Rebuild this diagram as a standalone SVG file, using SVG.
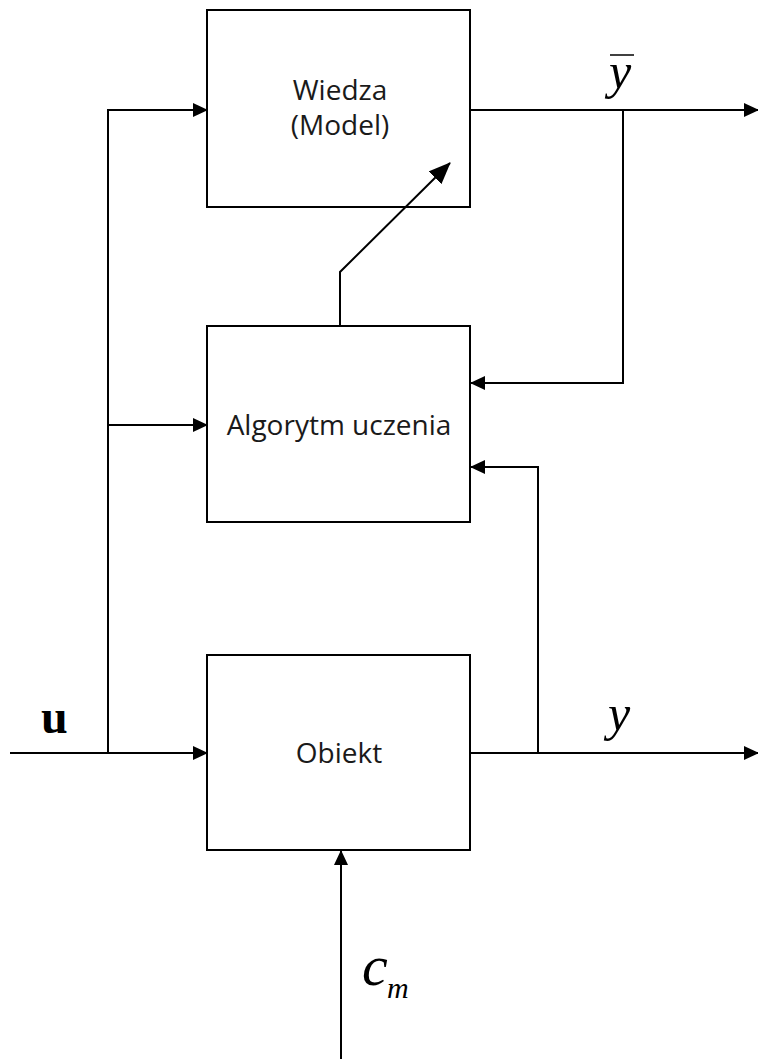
<svg xmlns="http://www.w3.org/2000/svg" width="758" height="1059" viewBox="0 0 758 1059">
<defs>
<marker id="ah" markerWidth="15" markerHeight="14" refX="14" refY="7" orient="auto" markerUnits="userSpaceOnUse">
<path d="M0,0 L15,7 L0,14 Z" fill="#000"/>
</marker>
<marker id="ahl" markerWidth="22" markerHeight="18" refX="21" refY="9" orient="auto" markerUnits="userSpaceOnUse">
<path d="M0,0 L22,9 L0,18 Z" fill="#000"/>
</marker>
<style>
.box{fill:#fff;stroke:#000;stroke-width:2}
.ln{fill:none;stroke:#000;stroke-width:2}
.arr{fill:none;stroke:#000;stroke-width:2;marker-end:url(#ah)}
.lbl{font-family:"Open Sans","Noto Sans",sans-serif;font-size:28px;fill:#1a1a1a;text-anchor:middle}
.math{font-family:"Liberation Serif",serif;font-style:italic;fill:#000}
</style>
</defs>
<rect width="758" height="1059" fill="#fff"/>
<g id="wiedza">
<rect class="box" x="207" y="10" width="263" height="197"/>
<text class="lbl" x="340" y="100">Wiedza</text>
<text class="lbl" x="340" y="135">(Model)</text>
</g>
<g id="algorytm">
<rect class="box" x="207" y="326" width="263" height="196"/>
<text class="lbl" x="339" y="435">Algorytm uczenia</text>
</g>
<g id="obiekt">
<rect class="box" x="207" y="655" width="263" height="195"/>
<text class="lbl" x="339" y="763">Obiekt</text>
</g>
<g id="connectors">
<line class="ln" x1="10" y1="753" x2="108" y2="753"/>
<line class="arr" x1="108" y1="753" x2="207" y2="753"/>
<line class="ln" x1="108" y1="753" x2="108" y2="109"/>
<line class="arr" x1="107" y1="110" x2="207" y2="110"/>
<line class="arr" x1="108" y1="425" x2="207" y2="425"/>
<line class="arr" x1="470" y1="110" x2="758" y2="110"/>
<polyline class="arr" points="623,110 623,383 471,383"/>
<line class="arr" x1="470" y1="753" x2="758" y2="753"/>
<polyline class="arr" points="538,753 538,467 471,467"/>
<polyline class="ln" points="340,326 340,272 450,163" marker-end="url(#ahl)"/>
<line class="arr" x1="341" y1="1059" x2="341" y2="851"/>
</g>
<g id="labels">
<text class="math" x="609" y="88" font-size="50">y</text>
<line x1="610" y1="55" x2="634" y2="55" stroke="#000" stroke-width="1.5"/>
<text x="41" y="733" font-family="Liberation Serif,serif" font-weight="bold" font-size="48">u</text>
<text class="math" x="608" y="730" font-size="50">y</text>
<text class="math" x="362" y="985" font-size="58">c</text>
<text class="math" x="387" y="998" font-size="30">m</text>
</g>
</svg>
